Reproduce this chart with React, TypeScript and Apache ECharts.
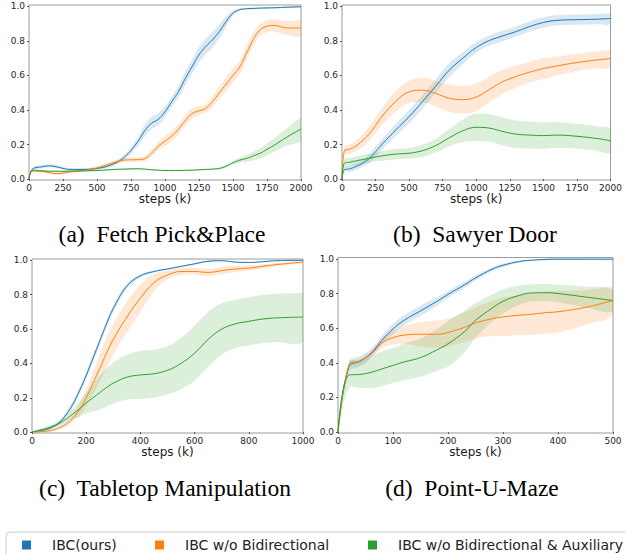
import React, { useEffect, useRef } from "react";
import * as echarts from "echarts";

const COLORS = ["#1f77b4", "#ff7f0e", "#2ca02c"];
const SERIES_NAMES = ["IBC(ours)", "IBC w/o Bidirectional", "IBC w/o Bidirectional & Auxiliary"];
const CAPTIONS = [
  "(a)\u00a0 Fetch Pick&Place",
  "(b)\u00a0 Sawyer Door",
  "(c)\u00a0 Tabletop Manipulation",
  "(d)\u00a0 Point-U-Maze",
];
const Y_TICKS = [0, 0.2, 0.4, 0.6, 0.8, 1.0];
const X_LABEL = "steps (k)";

// ---- (a) Fetch Pick&Place ----
const xA = [0, 25, 100, 150, 200, 250, 300, 400, 500, 600, 700, 800, 850, 900, 950, 1000, 1050, 1100, 1150, 1200, 1250, 1300, 1350, 1400, 1450, 1500, 1550, 1600, 1650, 1700, 1750, 1800, 1900, 2000];
const aIbcMean = [0, 0.058, 0.072, 0.077, 0.072, 0.062, 0.056, 0.056, 0.062, 0.081, 0.126, 0.217, 0.279, 0.323, 0.346, 0.39, 0.449, 0.507, 0.584, 0.652, 0.72, 0.768, 0.807, 0.855, 0.913, 0.961, 0.981, 0.986, 0.988, 0.99, 0.991, 0.992, 0.995, 0.998];
const aIbcStd = [0, 0.008, 0.008, 0.008, 0.008, 0.008, 0.008, 0.008, 0.008, 0.01, 0.015, 0.025, 0.035, 0.035, 0.035, 0.03, 0.03, 0.035, 0.04, 0.04, 0.045, 0.045, 0.045, 0.04, 0.03, 0.015, 0.008, 0.006, 0.005, 0.005, 0.005, 0.005, 0.004, 0.004];
const aNoBiMean = [0, 0.05, 0.045, 0.038, 0.032, 0.035, 0.042, 0.05, 0.065, 0.09, 0.11, 0.113, 0.118, 0.15, 0.19, 0.22, 0.25, 0.29, 0.34, 0.38, 0.395, 0.41, 0.45, 0.5, 0.55, 0.6, 0.65, 0.73, 0.81, 0.865, 0.885, 0.89, 0.875, 0.875];
const aNoBiStd = [0, 0.008, 0.008, 0.008, 0.008, 0.008, 0.008, 0.008, 0.01, 0.01, 0.012, 0.012, 0.015, 0.02, 0.025, 0.028, 0.03, 0.03, 0.03, 0.03, 0.025, 0.025, 0.03, 0.035, 0.04, 0.04, 0.04, 0.04, 0.04, 0.035, 0.035, 0.035, 0.04, 0.045];
const aNoBiAuxMean = [0, 0.048, 0.047, 0.046, 0.046, 0.045, 0.046, 0.048, 0.05, 0.055, 0.058, 0.06, 0.058, 0.054, 0.052, 0.05, 0.05, 0.05, 0.051, 0.052, 0.054, 0.056, 0.058, 0.062, 0.075, 0.095, 0.11, 0.12, 0.135, 0.15, 0.172, 0.195, 0.245, 0.29];
const aNoBiAuxStd = [0, 0.004, 0.004, 0.004, 0.004, 0.004, 0.004, 0.004, 0.004, 0.004, 0.004, 0.004, 0.004, 0.004, 0.004, 0.004, 0.004, 0.004, 0.004, 0.004, 0.004, 0.004, 0.005, 0.006, 0.008, 0.012, 0.015, 0.02, 0.025, 0.03, 0.035, 0.04, 0.05, 0.065];

// ---- (b) Sawyer Door ----
const xB = [0, 20, 50, 100, 150, 200, 250, 300, 400, 500, 600, 700, 800, 900, 1000, 1100, 1200, 1300, 1400, 1500, 1600, 1750, 1900, 2000];
const bIbcMean = [0, 0.056, 0.058, 0.072, 0.09, 0.118, 0.159, 0.203, 0.284, 0.362, 0.449, 0.54, 0.632, 0.7, 0.762, 0.803, 0.83, 0.855, 0.884, 0.907, 0.919, 0.923, 0.926, 0.93];
const bIbcStd = [0, 0.015, 0.015, 0.02, 0.02, 0.025, 0.03, 0.03, 0.035, 0.04, 0.04, 0.04, 0.04, 0.035, 0.03, 0.03, 0.03, 0.03, 0.03, 0.03, 0.03, 0.03, 0.03, 0.03];
const bNoBiMean = [0, 0.168, 0.172, 0.19, 0.22, 0.26, 0.31, 0.365, 0.45, 0.505, 0.515, 0.495, 0.468, 0.46, 0.475, 0.52, 0.565, 0.595, 0.62, 0.64, 0.655, 0.675, 0.69, 0.698];
const bNoBiStd = [0, 0.025, 0.025, 0.03, 0.035, 0.04, 0.045, 0.05, 0.06, 0.065, 0.07, 0.075, 0.08, 0.08, 0.08, 0.075, 0.07, 0.065, 0.06, 0.06, 0.055, 0.05, 0.05, 0.05];
const bNoBiAuxMean = [0, 0.095, 0.097, 0.105, 0.113, 0.12, 0.128, 0.135, 0.145, 0.15, 0.165, 0.195, 0.24, 0.28, 0.3, 0.295, 0.275, 0.26, 0.255, 0.252, 0.255, 0.248, 0.235, 0.222];
const bNoBiAuxStd = [0, 0.025, 0.025, 0.025, 0.025, 0.025, 0.025, 0.028, 0.03, 0.03, 0.035, 0.04, 0.05, 0.065, 0.08, 0.08, 0.08, 0.08, 0.078, 0.076, 0.075, 0.072, 0.07, 0.068];

// ---- (c) Tabletop Manipulation ----
const xC = [0, 25, 50, 75, 100, 125, 150, 175, 200, 225, 250, 275, 300, 350, 400, 450, 500, 550, 600, 650, 700, 750, 800, 850, 900, 1000];
const cIbcMean = [0.002, 0.008, 0.015, 0.03, 0.055, 0.1, 0.16, 0.24, 0.33, 0.43, 0.53, 0.63, 0.72, 0.85, 0.91, 0.935, 0.95, 0.965, 0.98, 0.995, 0.998, 0.99, 0.988, 0.992, 0.998, 1.0];
const cIbcStd = [0, 0.004, 0.005, 0.008, 0.01, 0.015, 0.02, 0.02, 0.022, 0.022, 0.022, 0.02, 0.02, 0.015, 0.01, 0.006, 0.005, 0.005, 0.005, 0.004, 0.003, 0.003, 0.003, 0.003, 0.003, 0.003];
const cNoBiMean = [0, 0.002, 0.005, 0.012, 0.025, 0.045, 0.08, 0.13, 0.2, 0.285, 0.37, 0.46, 0.54, 0.67, 0.78, 0.87, 0.915, 0.935, 0.935, 0.93, 0.94, 0.95, 0.955, 0.965, 0.975, 0.99];
const cNoBiStd = [0, 0.004, 0.005, 0.008, 0.01, 0.015, 0.02, 0.035, 0.05, 0.065, 0.08, 0.09, 0.09, 0.09, 0.08, 0.05, 0.025, 0.02, 0.02, 0.02, 0.02, 0.018, 0.015, 0.012, 0.01, 0.005];
const cNoBiAuxMean = [0, 0.01, 0.02, 0.033, 0.05, 0.075, 0.105, 0.135, 0.17, 0.2, 0.23, 0.26, 0.285, 0.32, 0.333, 0.34, 0.36, 0.4, 0.46, 0.54, 0.6, 0.63, 0.645, 0.658, 0.665, 0.67];
const cNoBiAuxStd = [0, 0.01, 0.012, 0.013, 0.015, 0.02, 0.03, 0.045, 0.06, 0.08, 0.1, 0.11, 0.12, 0.13, 0.14, 0.14, 0.14, 0.15, 0.16, 0.16, 0.15, 0.14, 0.14, 0.14, 0.14, 0.14];

// ---- (d) Point-U-Maze ----
const xD = [0, 20, 40, 60, 80, 100, 120, 150, 180, 200, 230, 250, 280, 300, 330, 350, 380, 400, 450, 500];
const dIbcMean = [0, 0.38, 0.41, 0.455, 0.53, 0.595, 0.645, 0.7, 0.755, 0.795, 0.85, 0.89, 0.94, 0.963, 0.985, 0.992, 0.997, 0.998, 0.998, 0.998];
const dIbcStd = [0, 0.03, 0.03, 0.025, 0.025, 0.03, 0.03, 0.03, 0.025, 0.02, 0.018, 0.015, 0.012, 0.01, 0.007, 0.005, 0.005, 0.005, 0.005, 0.005];
const dNoBiMean = [0, 0.385, 0.41, 0.45, 0.515, 0.545, 0.56, 0.565, 0.565, 0.575, 0.605, 0.63, 0.655, 0.665, 0.675, 0.68, 0.69, 0.695, 0.72, 0.76];
const dNoBiStd = [0, 0.015, 0.015, 0.02, 0.03, 0.04, 0.05, 0.07, 0.08, 0.08, 0.085, 0.09, 0.1, 0.11, 0.115, 0.12, 0.12, 0.12, 0.1, 0.08];
const dNoBiAuxMean = [0, 0.33, 0.333, 0.345, 0.365, 0.385, 0.405, 0.43, 0.475, 0.51, 0.58, 0.645, 0.715, 0.755, 0.79, 0.803, 0.805, 0.8, 0.78, 0.76];
const dNoBiAuxStd = [0, 0.075, 0.08, 0.09, 0.1, 0.1, 0.105, 0.11, 0.12, 0.13, 0.12, 0.1, 0.08, 0.07, 0.055, 0.05, 0.05, 0.05, 0.06, 0.06];

const PANELS = [
  { x: xA, means: [aIbcMean, aNoBiMean, aNoBiAuxMean], stds: [aIbcStd, aNoBiStd, aNoBiAuxStd], xMax: 2000, xInterval: 250 },
  { x: xB, means: [bIbcMean, bNoBiMean, bNoBiAuxMean], stds: [bIbcStd, bNoBiStd, bNoBiAuxStd], xMax: 2000, xInterval: 250 },
  { x: xC, means: [cIbcMean, cNoBiMean, cNoBiAuxMean], stds: [cIbcStd, cNoBiStd, cNoBiAuxStd], xMax: 1000, xInterval: 200 },
  { x: xD, means: [dIbcMean, dNoBiMean, dNoBiAuxMean], stds: [dIbcStd, dNoBiStd, dNoBiAuxStd], xMax: 500, xInterval: 100 },
];

// layout (pixels)
const GRIDS = [
  { left: 29, top: 5, width: 272, height: 175 },
  { left: 342, top: 5, width: 271, height: 175 },
  { left: 32, top: 259, width: 271, height: 174 },
  { left: 338, top: 257.5, width: 275, height: 175.5 },
];
const CAPTION_POS = [
  [162, 234],
  [475, 234],
  [165, 488],
  [472, 488],
];
const LEGEND_LEFT = [22, 155, 368];

const FONT = "DejaVu Sans";
const SMOOTH = 0.4;

function buildOption() {
  const series: any[] = [];
  PANELS.forEach((p, i) => {
    p.means.forEach((mean, j) => {
      const sd = p.stds[j];
      const lo = mean.map((m, k) => m - sd[k]);
      const hi = mean.map((m, k) => m + sd[k]);
      series.push({
        type: "custom",
        coordinateSystem: "cartesian2d",
        xAxisIndex: i,
        yAxisIndex: i,
        silent: true,
        clip: true,
        z: 1,
        data: [[p.x[0], mean[0]]],
        renderItem: (_params: any, api: any) => {
          const pts: number[][] = [];
          for (let k = 0; k < p.x.length; k++) pts.push(api.coord([p.x[k], hi[k]]));
          for (let k = p.x.length - 1; k >= 0; k--) pts.push(api.coord([p.x[k], lo[k]]));
          let minX = Infinity, minY = Infinity, maxX = -Infinity, maxY = -Infinity;
          pts.forEach(([px, py]) => {
            if (px < minX) minX = px;
            if (py < minY) minY = py;
            if (px > maxX) maxX = px;
            if (py > maxY) maxY = py;
          });
          return {
            type: "polygon",
            shape: {
              points: pts,
              smooth: SMOOTH,
              smoothConstraint: [
                [minX, minY],
                [maxX, maxY],
              ],
            },
            style: { fill: COLORS[j], opacity: 0.17 },
          };
        },
      });
    });
    p.means.forEach((mean, j) => {
      series.push({
        name: SERIES_NAMES[j],
        type: "line",
        xAxisIndex: i,
        yAxisIndex: i,
        data: p.x.map((xv, k) => [xv, mean[k]]),
        symbol: "none",
        smooth: SMOOTH,
        lineStyle: { color: COLORS[j], width: 1 },
        itemStyle: { color: COLORS[j] },
        z: 3,
      });
    });
  });

  const grid = GRIDS.map((g) => ({
    ...g,
    show: true,
    borderColor: "#9a9a9a",
    borderWidth: 1,
    backgroundColor: "transparent",
  }));

  const xAxis = PANELS.map((p, i) => ({
    gridIndex: i,
    type: "value",
    min: 0,
    max: p.xMax,
    interval: p.xInterval,
    splitLine: { show: false },
    axisLine: { show: false },
    axisTick: { show: true, length: 2, lineStyle: { color: "#555" } },
    axisLabel: {
      fontSize: 9,
      color: "#262626",
      fontFamily: FONT,
      margin: 3,
      formatter: (v: number) => String(v),
    },
    name: X_LABEL,
    nameLocation: "middle",
    nameGap: 13,
    nameTextStyle: { fontSize: 12, fontFamily: FONT, color: "#1a1a1a" },
  }));

  const yAxis = PANELS.map((_, i) => ({
    gridIndex: i,
    type: "value",
    min: -0.005,
    max: 1.008,
    splitLine: { show: false },
    axisLine: { show: false },
    axisTick: { show: true, length: 2, customValues: Y_TICKS, lineStyle: { color: "#555" } },
    axisLabel: {
      customValues: Y_TICKS,
      formatter: (v: number) => v.toFixed(1),
      fontSize: 9,
      color: "#262626",
      fontFamily: FONT,
      margin: 4,
    },
  }));

  const legend = SERIES_NAMES.map((name, j) => ({
    data: [name],
    left: LEGEND_LEFT[j],
    top: 538,
    padding: 0,
    icon: "rect",
    itemWidth: 9,
    itemHeight: 9,
    selectedMode: false,
    textStyle: { fontSize: 14, fontFamily: FONT, color: "#222", padding: [0, 0, 0, 16] },
  }));

  const graphic: any[] = [
    {
      type: "rect",
      silent: true,
      shape: { x: 6, y: 532, width: 700, height: 40, r: 4 },
      style: { fill: "none", stroke: "#cccccc", lineWidth: 1 },
    },
    ...CAPTIONS.map((text, i) => ({
      type: "text",
      silent: true,
      x: CAPTION_POS[i][0],
      y: CAPTION_POS[i][1],
      style: {
        text,
        font: '23.5px "Liberation Serif"',
        fill: "#000",
        align: "center",
        verticalAlign: "middle",
      },
    })),
  ];

  return {
    animation: false,
    backgroundColor: "#fff",
    grid,
    xAxis,
    yAxis,
    legend,
    graphic,
    series,
  };
}

export default function App() {
  const ref = useRef<HTMLDivElement>(null);
  useEffect(() => {
    if (!ref.current) return;
    const chart = echarts.init(ref.current, undefined, { renderer: "svg" });
    chart.setOption(buildOption() as any);
    return () => chart.dispose();
  }, []);
  return (
    <div
      ref={ref}
      style={{ position: "absolute", left: 0, top: 0, width: 625, height: 554, background: "#fff" }}
    />
  );
}
